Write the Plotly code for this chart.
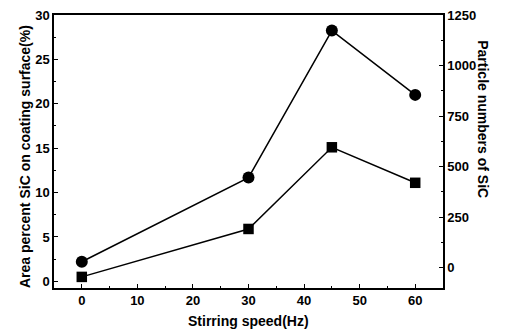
import plotly.graph_objects as go

speed = [0, 30, 45, 60]
area_percent = [0.5, 5.9, 15.1, 11.1]
particle_numbers = [30, 446, 1173, 855]

FONT = "Liberation Sans"

fig = go.Figure()
fig.add_trace(go.Scatter(
    x=speed, y=area_percent, mode="lines+markers",
    line=dict(color="black", width=1.5),
    marker=dict(symbol="square", size=10.5, color="black"),
    yaxis="y", showlegend=False))
fig.add_trace(go.Scatter(
    x=speed, y=particle_numbers, mode="lines+markers",
    line=dict(color="black", width=1.5),
    marker=dict(symbol="circle", size=12, color="black"),
    yaxis="y2", showlegend=False))

tickfont = dict(family=FONT, size=13, color="black", weight="bold")
titlefont = dict(family=FONT, size=14, color="black", weight="bold")
common = dict(showgrid=False, zeroline=False, showline=True, linecolor="black",
              linewidth=1.5, ticks="inside", ticklen=4, tickcolor="black",
              tickwidth=1.2, tickfont=tickfont, automargin=False)

fig.update_layout(
    width=505, height=333,
    margin=dict(l=54, r=62, t=15, b=45, autoexpand=False),
    paper_bgcolor="white", plot_bgcolor="white",
    xaxis=dict(range=[-5, 65], tickvals=[0, 10, 20, 30, 40, 50, 60], mirror=True,
               minor=dict(dtick=5, ticks="inside", ticklen=2, tickcolor="black"),
               **common),
    yaxis=dict(range=[-0.75, 30], tickvals=[0, 5, 10, 15, 20, 25, 30],
               minor=dict(dtick=2.5, ticks="inside", ticklen=2, tickcolor="black"),
               **common),
    yaxis2=dict(range=[-100, 1250], overlaying="y", side="right",
                tickvals=[0, 250, 500, 750, 1000, 1250],
                minor=dict(dtick=125, ticks="inside", ticklen=2, tickcolor="black"),
                **common),
    annotations=[
        dict(text="Stirring speed(Hz)", x=0.5, y=-0.121, xref="paper", yref="paper",
             showarrow=False, yanchor="middle", font=titlefont),
        dict(text="Area percent SiC on coating surface(%)", x=-0.1, y=0.48,
             xref="paper", yref="paper", showarrow=False, textangle=-90,
             font=titlefont),
        dict(text="Particle numbers of SiC", x=1.128, y=0.619, xref="paper", yref="paper",
             showarrow=False, textangle=90, font=titlefont),
    ],
)

fig.write_html("out.html", config={"displayModeBar": False},
               post_script="document.body.style.margin='0';document.body.style.overflow='hidden';")
